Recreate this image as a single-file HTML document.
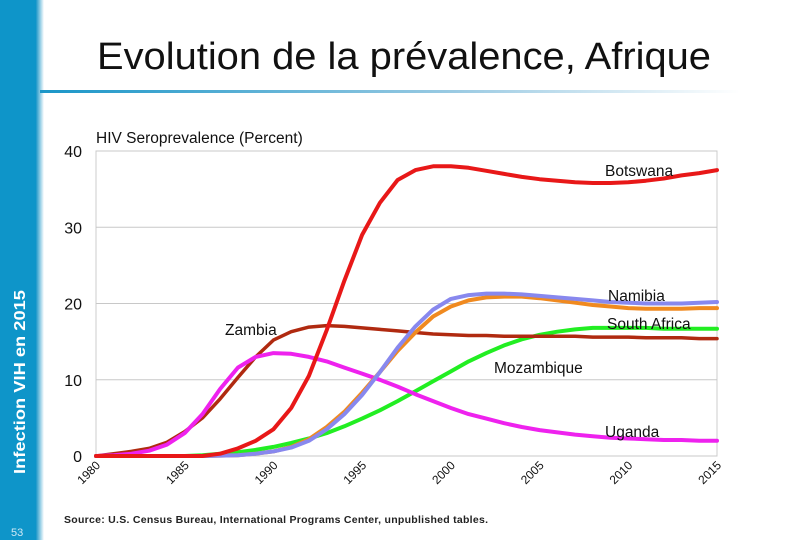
<!DOCTYPE html>
<html><head><meta charset="utf-8"><style>
body{margin:0;width:810px;height:540px;overflow:hidden;background:#fff;font-family:"Liberation Sans",Arial,sans-serif}
svg{display:block}
</style></head><body>
<svg width="810" height="540" viewBox="0 0 810 540">
<defs>
<linearGradient id="sg" x1="0" x2="1"><stop offset="0" stop-color="#1a96c8"/><stop offset="1" stop-color="#fff"/></linearGradient>
<linearGradient id="ug" x1="0" x2="1"><stop offset="0" stop-color="#1a96c8"/><stop offset="0.6" stop-color="#9ccbe3"/><stop offset="1" stop-color="#fff"/></linearGradient>
</defs>
<rect x="0" y="0" width="36" height="540" fill="#0e95c9"/>
<rect x="36" y="0" width="8" height="540" fill="url(#sg)"/>
<text transform="translate(25,474) rotate(-90)" font-size="15.5" font-weight="bold" fill="#fff" textLength="184" lengthAdjust="spacingAndGlyphs">Infection VIH en 2015</text>
<text x="11" y="536" font-size="11" fill="#cfe9f5">53</text>
<text x="404" y="69" text-anchor="middle" font-size="38" fill="#111" textLength="614" lengthAdjust="spacingAndGlyphs">Evolution de la prévalence, Afrique</text>
<rect x="40" y="90" width="700" height="3" fill="url(#ug)"/>
<g id="chart"></g>
<text x="64" y="523" font-size="10.5" font-weight="bold" fill="#222" textLength="424">Source:  U.S. Census Bureau, International Programs Center, unpublished tables.</text>
</svg>
<script>
const years=[];for(let y=1980;y<=2015;y++)years.push(y);
const yTicks=[0,10,20,30,40];
const xTicks=[1980,1985,1990,1995,2000,2005,2010,2015];
const botswana=[0,0,0,0,0,0,0,0.3,1,2,3.5,6.3,10.5,16.5,23,29,33.2,36.2,37.5,38,38,37.8,37.4,37,36.6,36.3,36.1,35.9,35.8,35.8,35.9,36.1,36.4,36.8,37.1,37.5];
const zambia=[0,0.3,0.6,1.0,1.8,3.2,5,7.5,10.3,13,15.2,16.3,16.9,17.1,17.0,16.8,16.6,16.4,16.2,16.0,15.9,15.8,15.8,15.7,15.7,15.7,15.7,15.7,15.6,15.6,15.6,15.5,15.5,15.5,15.4,15.4];
const uganda=[0,0.1,0.3,0.7,1.5,3,5.5,8.8,11.6,13,13.5,13.4,13,12.4,11.6,10.8,10,9.1,8.1,7.2,6.3,5.5,4.9,4.3,3.8,3.4,3.1,2.8,2.6,2.4,2.3,2.2,2.1,2.1,2.0,2.0];
const namibia=[0,0,0,0,0,0,0,0.05,0.1,0.3,0.6,1.1,2,3.5,5.5,8,11,14.2,17,19.2,20.6,21.1,21.3,21.3,21.2,21.0,20.8,20.6,20.4,20.2,20.1,20.0,20.0,20.0,20.1,20.2];
const southAfrica=[0,0,0,0,0,0,0,0.05,0.1,0.3,0.6,1.2,2.2,3.8,5.8,8.3,11,13.8,16.2,18.3,19.6,20.4,20.8,20.9,20.9,20.7,20.4,20.1,19.8,19.6,19.4,19.3,19.3,19.3,19.4,19.4];
const mozambique=[0,0,0,0,0,0,0.1,0.3,0.5,0.8,1.2,1.7,2.3,3,3.9,4.9,6,7.2,8.5,9.8,11.1,12.4,13.5,14.5,15.3,15.9,16.3,16.6,16.8,16.8,16.8,16.8,16.7,16.7,16.7,16.7];
const NS='http://www.w3.org/2000/svg';
const X0=96,X1=717,Y0=456,Y1=151;
const xs=y=>X0+(y-1980)/(2015-1980)*(X1-X0);
const ys=v=>Y0-v/40*(Y0-Y1);
const g=document.getElementById('chart');
function mk(t,a){const e=document.createElementNS(NS,t);for(const k in a)e.setAttribute(k,a[k]);g.appendChild(e);return e;}
const frame=mk('rect',{x:X0,y:Y1,width:X1-X0,height:Y0-Y1,fill:'none',stroke:'#ccc','stroke-width':1});


yTicks.forEach(v=>{
 const l=mk('line',{x1:X0,x2:X1,y1:ys(v),y2:ys(v),stroke:'#c8c8c8','stroke-width':1});
 
 
 const t=mk('text',{x:82,y:ys(v)+6,'text-anchor':'end','font-size':16,fill:'#111'});t.textContent=v;
 
 
});
xTicks.forEach(v=>{
 const t=mk('text',{transform:`translate(${xs(v)+5},${466}) rotate(-45)`,'text-anchor':'end','font-size':12,fill:'#111'});t.textContent=v;
 
 
});
const at=mk('text',{x:96,y:143,'font-size':15.5,fill:'#111'});at.textContent='HIV Seroprevalence (Percent)';


function path(vals){let d='';vals.forEach((v,i)=>{d+=(i?'L':'M')+xs(years[i]).toFixed(1)+','+ys(v).toFixed(1);});return d;}
const series=[['mozambique',mozambique,'#22ee22'],['zambia',zambia,'#b02a10'],['uganda',uganda,'#ee22ee'],['south-africa',southAfrica,'#f08a20'],['namibia',namibia,'#8888ee'],['botswana',botswana,'#e81818']];
series.forEach(s=>{
 const p=mk('path',{d:path(s[1]),fill:'none',stroke:s[2],'stroke-width':s[0]==='zambia'?3.5:4,'stroke-linejoin':'round','stroke-linecap':'round'});
 
 
});
const labels=[['Botswana',605,171],['Namibia',608,296],['South Africa',607,324],['Zambia',225,330],['Mozambique',494,368],['Uganda',605,432]];
labels.forEach(l=>{
 const t=mk('text',{x:l[1],y:l[2]+5,'font-size':15.5,fill:'#111'});t.textContent=l[0];
 
 
});
</script>
</body></html>
